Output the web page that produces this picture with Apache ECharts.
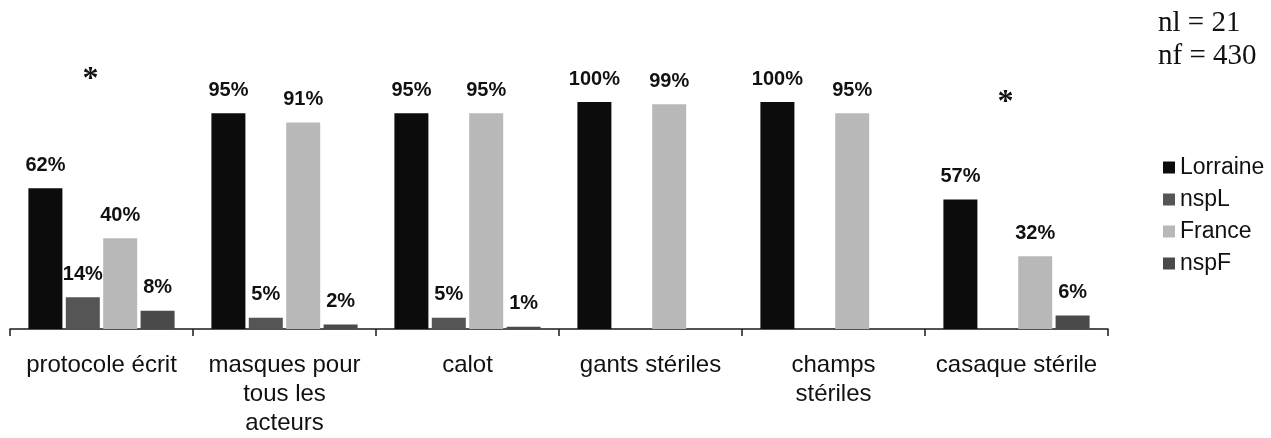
<!DOCTYPE html>
<html>
<head>
<meta charset="utf-8">
<script src="https://cdn.jsdelivr.net/npm/echarts@6/dist/echarts.min.js"></script>
<style>
html,body{margin:0;padding:0;background:#fff;}
#chart{width:1271px;height:438px;}
</style>
</head>
<body>
<div id="chart"></div>
<script>
const categories = ['protocole écrit', 'masques pour\ntous les\nacteurs', 'calot', 'gants stériles', 'champs\nstériles', 'casaque stérile'];
const seriesNames = ['Lorraine', 'nspL', 'France', 'nspF'];
const lorraine = [62, 95, 95, 100, 100, 57];
const nspL = [14, 5, 5, 0, 0, 0];
const france = [40, 91, 95, 99, 95, 32];
const nspF = [8, 2, 1, 0, 0, 6];
const sampleSizes = ['nl = 21', 'nf = 430'];
const significantCats = [0, 5];

const colors = ['#0c0c0c', '#555555', '#b8b8b8', '#4a4a4a'];
const values = [lorraine, nspL, france, nspF];

const chart = echarts.init(document.getElementById('chart'));
const labelFont = 'Liberation Sans, Arial, sans-serif';
const serifFont = '"Liberation Serif", "Times New Roman", serif';

const series = seriesNames.map((name, i) => ({
  name: name,
  type: 'bar',
  data: values[i],
  barWidth: 34,
  barGap: '10%',
  itemStyle: { color: colors[i] },
  label: {
    show: true,
    position: 'top',
    distance: 13,
    fontFamily: labelFont,
    fontWeight: 'bold',
    fontSize: 20,
    color: '#111',
    formatter: p => (p.value > 0 ? p.value + '%' : '')
  }
}));

const sizeTexts = [
  { type: 'text', left: 1158, top: 9, style: { text: sampleSizes[0], font: '29px ' + serifFont, fill: '#111' } },
  { type: 'text', left: 1158, top: 42, style: { text: sampleSizes[1], font: '29px ' + serifFont, fill: '#111' } }
];

chart.setOption({
  animation: false,
  backgroundColor: '#fff',
  grid: { left: 10, right: 163, top: 102, bottom: 109, containLabel: false },
  xAxis: {
    type: 'category',
    data: categories,
    boundaryGap: true,
    axisLine: { lineStyle: { color: '#1a1a1a', width: 1.5 } },
    axisTick: { show: true, length: 7, lineStyle: { color: '#1a1a1a', width: 1.5 } },
    axisLabel: {
      interval: 0,
      margin: 22,
      fontFamily: labelFont,
      fontSize: 24,
      lineHeight: 29,
      color: '#111'
    }
  },
  yAxis: {
    type: 'value',
    min: 0,
    max: 100,
    show: false,
    splitLine: { show: false }
  },
  legend: {
    orient: 'vertical',
    left: 1158,
    top: 151,
    icon: 'rect',
    itemWidth: 12,
    itemHeight: 12,
    itemGap: 9,
    data: seriesNames,
    textStyle: { fontFamily: labelFont, fontSize: 23, lineHeight: 23, color: '#111' }
  },
  graphic: sizeTexts,
  series: series
});

// asterisks for significant categories, positioned via the chart's scale
function placeStars() {
  const starY = [80, 103];
  const els = significantCats.map((ci, k) => {
    const px = chart.convertToPixel({ xAxisIndex: 0 }, ci);
    return {
      type: 'text',
      x: px - 11,
      y: starY[k],
      style: { text: '*', font: 'bold 32px ' + serifFont, fill: '#111', align: 'center', verticalAlign: 'middle' }
    };
  });
  chart.setOption({ graphic: sizeTexts.concat(els) }, { replaceMerge: ['graphic'] });
}
placeStars();
</script>
</body>
</html>
